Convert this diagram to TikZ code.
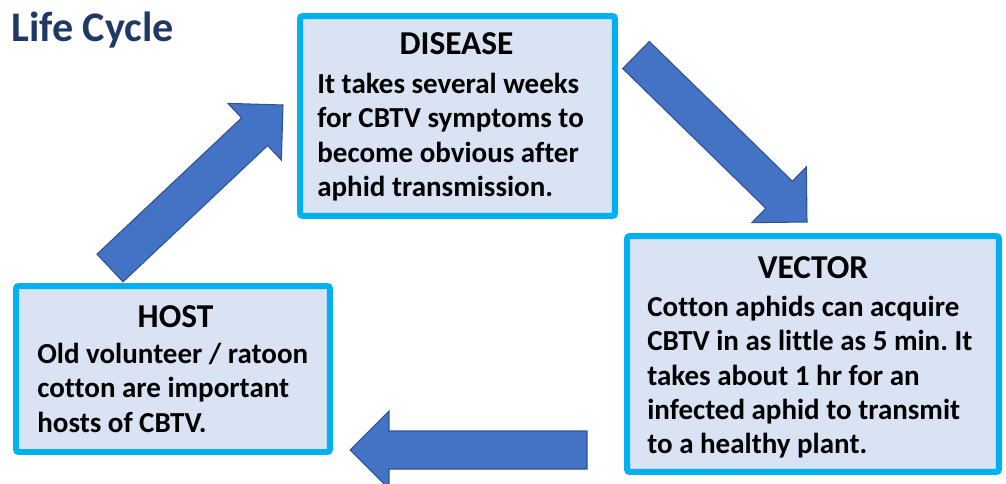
\documentclass[tikz,border=0pt]{standalone}
\usepackage{fontspec}
\setmainfont{Carlito}[Ligatures=NoCommon]
\frenchspacing
\usetikzlibrary{calc}
\definecolor{lcframe}{HTML}{00B0F0}
\definecolor{lcfill}{HTML}{DAE3F3}
\definecolor{lcarrow}{HTML}{4472C4}
\definecolor{lcarrowdark}{HTML}{2F528F}
\definecolor{lctitle}{HTML}{1F3864}

\begin{document}
\begin{tikzpicture}[
      x=0.02cm, y=-0.02cm,
      box/.style={draw=lcframe, fill=lcfill, line width=3.4pt, rounded corners=1.5pt, inner sep=0pt},
      head/.style={font=\fontsize{19}{22}\selectfont\bfseries, anchor=base, inner sep=0pt},
      body/.style={font=\fontsize{16.5}{19.5}\selectfont\bfseries, align=left, anchor=north west, inner sep=0pt},
      blockarr/.style={fill=lcarrow, draw=lcarrowdark, line width=0.6pt, line join=miter}
    ]
    \useasboundingbox (0,0) rectangle (1006,483);
    \clip (0,0) rectangle (1006,483);
    \node[font=\fontsize{24}{28}\selectfont\bfseries, text=lctitle, anchor=base west, inner sep=0pt] (title) at (11,42) {Life Cycle};

    % the three stages
    \node[box, minimum width=6.3cm, minimum height=4cm] (disease) at (457.5,116) {};
    \node[head] (diseasehead) at (456.5,55) {DISEASE};
    \node[body] (diseasetext) at (317,73) {It takes several weeks\\for CBTV symptoms to\\become obvious after\\aphid transmission.};

    \node[box, minimum width=7.44cm, minimum height=4.72cm] (vector) at (813,354) {};
    \node[head] (vectorhead) at (813,278) {VECTOR};
    \node[body] (vectortext) at (647,296) {Cotton aphids can acquire\\CBTV in as little as 5 min. It\\takes about 1 hr for an\\infected aphid to transmit\\to a healthy plant.};

    \node[box, minimum width=6.28cm, minimum height=3.32cm] (host) at (173,369) {};
    \node[head] (hosthead) at (175.5,327) {HOST};
    \node[body] (hosttext) at (37,343) {Old volunteer / ratoon\\cotton are important\\hosts of CBTV.};

    % block arrows: tail -> tip
    \coordinate (up0) at (110,268);   \coordinate (up1) at (283,105);
    \coordinate (down0) at (636,55);  \coordinate (down1) at (807,222);
    \coordinate (left0) at (587,450); \coordinate (left1) at (350,450);
    \foreach \a/\b in {up0/up1, down0/down1, left0/left1} {
      \coordinate (hb) at ($(\b)!0.78cm!(\a)$);
      \draw[blockarr] ($(\a)!0.38cm!90:(\b)$) -- ($(hb)!0.38cm!90:(\b)$) -- ($(hb)!0.78cm!90:(\b)$)
        -- (\b) -- ($(hb)!0.78cm!-90:(\b)$) -- ($(hb)!0.38cm!-90:(\b)$) -- ($(\a)!0.38cm!-90:(\b)$) -- cycle;
    }
  \end{tikzpicture}
\end{document}
